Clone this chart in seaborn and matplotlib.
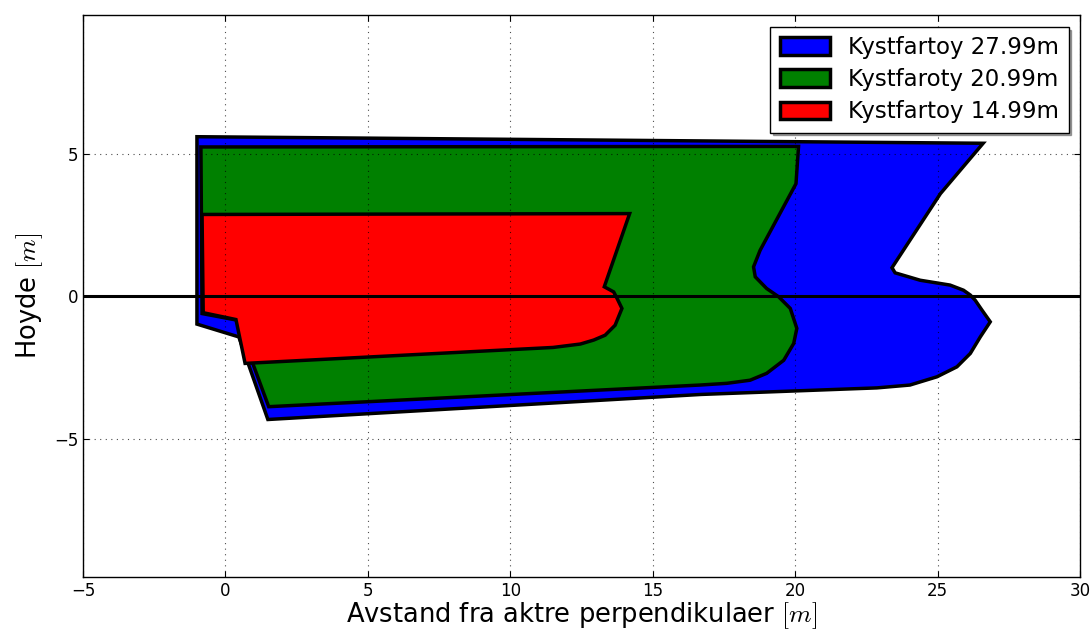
import matplotlib
matplotlib.use("Agg")
import matplotlib.pyplot as plt
import seaborn as sns
import numpy as np

# Hull profiles (x: distance from aft perpendicular [m], y: height [m])
blue_x = [-1.0, 26.6, 25.1, 23.4, 23.51, 24.39, 25.44, 25.91, 26.15, 26.32, 26.56, 26.85,
          26.5, 26.15, 25.68, 24.98, 24.03, 22.87, 16.7, 1.49, 0.47, -1.0]
blue_y = [5.6, 5.37, 3.6, 1.0, 0.82, 0.56, 0.39, 0.21, 0.04, -0.14, -0.49, -0.9,
          -1.43, -2.01, -2.48, -2.83, -3.12, -3.22, -3.45, -4.33, -1.43, -0.98]

green_x = [-0.86, 20.12, 20.03, 18.77, 18.54, 18.6, 19.0, 19.42, 19.83, 20.06, 19.95, 19.6,
           19.0, 18.42, 17.6, 16.66, 1.52, 0.40, -0.82]
green_y = [5.24, 5.26, 3.95, 1.61, 1.03, 0.68, 0.27, -0.02, -0.43, -1.13, -1.66, -2.25,
           -2.71, -2.95, -3.06, -3.12, -3.88, -0.84, -0.61]

red_x = [-0.82, 14.19, 13.3, 13.63, 13.75, 13.92, 13.68, 13.33, 12.93, 12.46, 11.5, 0.69, 0.37, -0.78]
red_y = [2.87, 2.9, 0.33, 0.15, -0.08, -0.43, -1.02, -1.37, -1.54, -1.68, -1.8, -2.36, -0.82, -0.58]

labels = ["Kystfartoy 27.99m", "Kystfaroty 20.99m", "Kystfartoy 14.99m"]
colors = ["#0000ff", "#008000", "#ff0000"]

sns.set_style("white")
plt.rcParams['font.family'] = ['DejaVu Sans']
plt.rcParams['mathtext.fontset'] = 'cm'
plt.rcParams['text.color'] = 'black'
plt.rcParams['axes.labelcolor'] = 'black'
plt.rcParams['xtick.color'] = 'black'
plt.rcParams['ytick.color'] = 'black'

fig = plt.figure(figsize=(10.92, 6.31), dpi=100)
ax = fig.add_axes([0.076, 0.0856, 0.913, 0.890])

for xs, ys, c, lab in zip([blue_x, green_x, red_x], [blue_y, green_y, red_y], colors, labels):
    ax.fill(xs, ys, facecolor=c, edgecolor="black", linewidth=2.5, label=lab, joinstyle="miter")

sns.lineplot(x=[-5, 30], y=[0, 0], color="black", linewidth=2.2, ax=ax, legend=False)

ax.set_xlim(-5, 30)
ax.set_ylim(-9.86, 9.86)
ax.set_xticks(np.arange(-5, 31, 5))
ax.set_yticks([-5, 0, 5])
ax.grid(True, color="black", linestyle=(0, (1, 4)), linewidth=0.8, alpha=0.7)
ax.set_axisbelow(False)
for sp in ax.spines.values():
    sp.set_color("black")
    sp.set_linewidth(1.0)
ax.tick_params(direction="in", length=4, width=0.8, labelsize=12, top=True, right=True,
               bottom=True, left=True, colors="black")
ax.set_xlabel(r"Avstand fra aktre perpendikulaer $[m]$", fontsize=18.5, labelpad=0, color="black")
ax.set_ylabel(r"Hoyde $[m]$", fontsize=18.5, labelpad=6, color="black")

leg = ax.legend(loc="upper right", fontsize=16.5, fancybox=False, shadow=True,
                frameon=True, borderaxespad=0.5, handlelength=2.2, handleheight=0.8,
                labelspacing=0.4)
leg.get_frame().set_edgecolor("black")
leg.get_frame().set_linewidth(1.0)
for t in leg.get_texts():
    t.set_color("black")

fig.savefig("out.png", dpi=100)
